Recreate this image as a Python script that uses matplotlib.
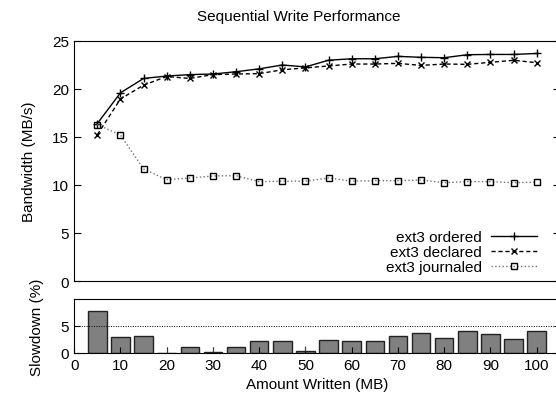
import numpy as np
import matplotlib.pyplot as plt

plt.rcParams['font.family'] = ['Liberation Sans', 'DejaVu Sans']
plt.rcParams['font.size'] = 11

written = [5, 10, 15, 20, 25, 30, 35, 40, 45, 50,
           55, 60, 65, 70, 75, 80, 85, 90, 95, 100]
ordered = [16.4, 19.6, 21.1, 21.35, 21.5, 21.56, 21.8, 22.1, 22.5, 22.3,
           23.0, 23.15, 23.15, 23.4, 23.3, 23.26, 23.57, 23.6, 23.6, 23.7]
declared = [15.24, 18.96, 20.4, 21.3, 21.1, 21.5, 21.56, 21.6, 22.0, 22.2,
            22.4, 22.6, 22.6, 22.67, 22.46, 22.6, 22.57, 22.78, 22.99, 22.74]
journaled = [16.3, 15.2, 11.67, 10.55, 10.73, 10.94, 10.97, 10.35, 10.4, 10.4,
             10.73, 10.4, 10.45, 10.45, 10.52, 10.24, 10.35, 10.35, 10.24, 10.3]
slowdown = [7.8, 2.94, 3.13, 0.05, 1.19, 0.13, 1.06, 2.25, 2.19, 0.44,
            2.44, 2.25, 2.25, 3.19, 3.69, 2.69, 4.0, 3.5, 2.56, 4.0]
slowdown_err = [0, 0, 0, 0.9, 0, 0.9, 0, 0, 0, 0.9,
                0, 0, 0, 0, 0, 0, 0, 0, 0, 0]

W, H = 556, 402
fig = plt.figure(figsize=(W / 100, H / 100), dpi=100)

left = 74.2 / W
width = 105 * 4.625 / W
ax = fig.add_axes([left, 1 - 282 / H, width, 240 / H])
ax2 = fig.add_axes([left, 1 - 354 / H, width, 54 / H])

ax.plot(written, ordered, color='black', lw=1.0, ls='-', marker='+',
        ms=6, mew=1.0, label='ext3 ordered')
ax.plot(written, declared, color='black', lw=1.0, ls='--', marker='x',
        ms=5, mew=1.0, dashes=(3, 2), label='ext3 declared')
ax.plot(written, journaled, color='0.45', lw=1.0, ls=':', marker='s',
        ms=4.5, mfc='none', mec='black', mew=1.0, label='ext3 journaled')

ax.set_xlim(0, 105)
ax.set_ylim(0, 25)
ax.set_yticks([0, 5, 10, 15, 20, 25])
ax.set_xticks([])
ax.tick_params(direction='in', right=True, length=5)
ax.set_ylabel('Bandwidth (MB/s)', labelpad=12)
ax.legend(loc='lower right', bbox_to_anchor=(0.975, -0.015), frameon=False,
          markerfirst=False, handlelength=3.0, labelspacing=0.05,
          handletextpad=0.6, borderaxespad=0.3)

ax2.bar(written, slowdown, width=4, color='#808080', edgecolor='#222222', lw=1.0)
ax2.errorbar(written, slowdown, yerr=[[0] * 20, slowdown_err], fmt='none',
             ecolor='#444444', elinewidth=0.8, capsize=0)
ax2.axhline(5, color='black', lw=0.7, ls=(0, (1, 1.5)))
ax2.set_xlim(0, 105)
ax2.set_ylim(0, 10)
ax2.set_yticks([0, 5])
ax2.set_xticks(np.arange(0, 101, 10))
ax2.tick_params(direction='in', right=True, length=4)
ax2.set_ylabel('Slowdown (%)', labelpad=12)
ax2.set_xlabel('Amount Written (MB)', labelpad=4)

fig.text(299 / W, 1 - 17 / H, 'Sequential Write Performance', ha='center', va='center')

fig.savefig('out.png', dpi=100)
